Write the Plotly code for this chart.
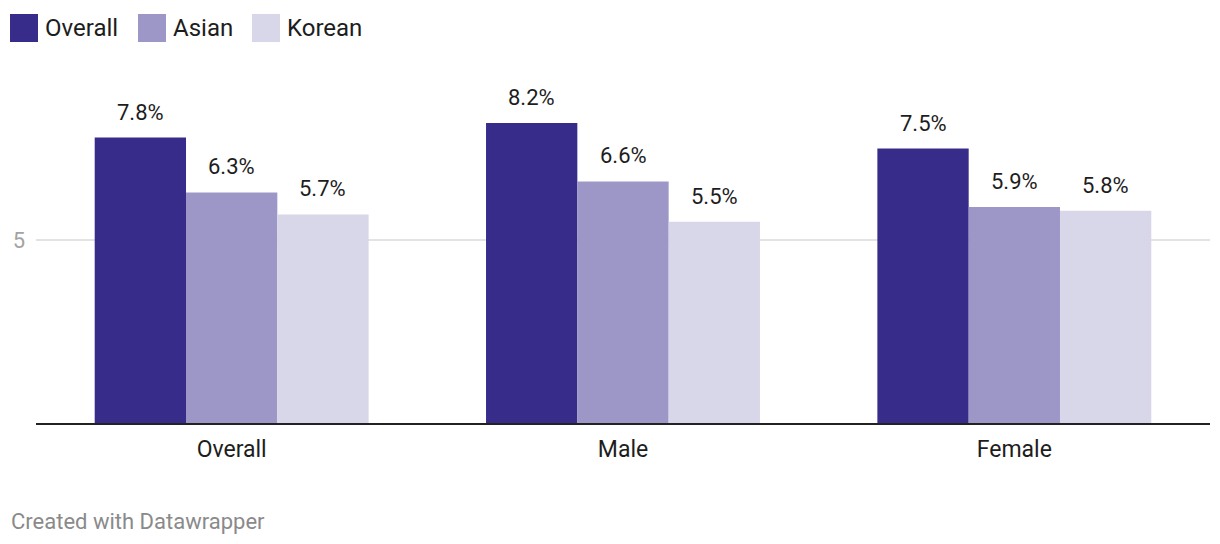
import plotly.graph_objects as go

categories = ["Overall", "Male", "Female"]
series_names = ["Overall", "Asian", "Korean"]
overall_vals = [7.8, 8.2, 7.5]
asian_vals = [6.3, 6.6, 5.9]
korean_vals = [5.7, 5.5, 5.8]
colors = ["#372c8a", "#9d97c7", "#d8d6e9"]
y_ticks = [5]

W, H = 1220, 544
ML, MR, MT, MB = 36, 10, 60, 121
PW, PH = W - ML - MR, H - MT - MB


def px(x):
    return (x - ML) / PW


def py(y):
    return (H - MB - y) / PH


FONT = "Roboto"
fig = go.Figure()
all_vals = [overall_vals, asian_vals, korean_vals]
for name, vals, col in zip(series_names, all_vals, colors):
    fig.add_trace(go.Bar(x=categories, y=vals, name=name, marker_color=col,
                         marker_line_width=0, showlegend=False, hoverinfo="skip"))

group_px = PW / 3 * 0.7
bar_px = group_px / 3
annotations = []
for i, vals in enumerate(all_vals):
    for c, v in zip(categories, vals):
        annotations.append(dict(x=c, y=v, xref="x", yref="y", text=f"{v}%",
                                showarrow=False, xanchor="center", yanchor="bottom",
                                xshift=(i - 1) * bar_px, yshift=11,
                                font=dict(family=FONT, size=22, color="#1d1d1d")))

# legend
shapes = []
leg_x = [10, 138, 252]
for name, col, lx in zip(series_names, colors, leg_x):
    shapes.append(dict(type="rect", xref="paper", yref="paper",
                       x0=px(lx), x1=px(lx + 28), y0=py(42), y1=py(14),
                       fillcolor=col, line_width=0))
    annotations.append(dict(x=px(lx + 33), y=py(28), xref="paper", yref="paper",
                            text=name, showarrow=False, xanchor="left", yanchor="middle",
                            font=dict(family=FONT, size=24, color="#1d1d1d")))

annotations.append(dict(x=px(9), y=py(521), xref="paper", yref="paper",
                        text="Created with Datawrapper", showarrow=False,
                        xanchor="left", yanchor="middle",
                        font=dict(family=FONT, size=22, color="#8a8a8a")))

fig.update_layout(
    width=W, height=H,
    margin=dict(l=ML, r=MR, t=MT, b=MB),
    paper_bgcolor="white", plot_bgcolor="white",
    barmode="group", bargap=0.3, bargroupgap=0,
    annotations=annotations, shapes=shapes,
    font=dict(family=FONT),
)
fig.update_xaxes(showline=True, linecolor="#222222", linewidth=2,
                 tickfont=dict(family=FONT, size=23, color="#1d1d1d"),
                 ticks="", ticklabelstandoff=4, showgrid=False)
fig.update_yaxes(range=[0, PH / 36.6], tickvals=y_ticks, ticktext=[str(t) for t in y_ticks],
                 showgrid=True, gridcolor="#e3e3e3", gridwidth=2,
                 tickfont=dict(family=FONT, size=22, color="#a3a3a3"),
                 ticklabelstandoff=10, zeroline=False, showline=False)

fig.write_html("out.html", config={"displayModeBar": False},
               post_script="document.body.style.margin='0';")
